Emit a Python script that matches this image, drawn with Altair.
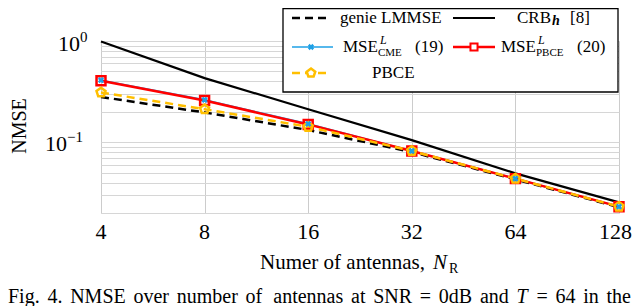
import altair as alt
import pandas as pd

# ---------------- data ----------------
N_R = [4, 8, 16, 32, 64, 128]
genie_lmmse = [0.28, 0.197, 0.132, 0.080, 0.043, 0.0228]
crb_h = [0.99, 0.43, 0.212, 0.105, 0.0493, 0.0255]
mse_cme = [0.41, 0.262, 0.152, 0.082, 0.0437, 0.0231]
mse_pbce = [0.405, 0.258, 0.150, 0.082, 0.0437, 0.0231]
pbce = [0.31, 0.212, 0.142, 0.082, 0.0437, 0.0231]

x_ticks = [4, 8, 16, 32, 64, 128]
y_grid = [0.02, 0.03, 0.04, 0.05, 0.06, 0.07, 0.08, 0.09,
          0.1, 0.2, 0.3, 0.4, 0.5, 0.6, 0.7, 0.8, 0.9, 1.0]

caption_words = ["Fig.", "4.", "NMSE", "over", "number", "of", "antennas", "at",
                 "SNR", "=", "0dB", "and", "T", "=", "64", "in", "the"]

# ---------------- style ----------------
FONT = "Liberation Serif"
BLUE = "#1ea0e6"
RED = "#ff0000"
ORANGE = "#ffbf00"
PENTAGON = "M0,-1L0.951,-0.309L0.588,0.809L-0.588,0.809L-0.951,-0.309Z"

W, H = 518, 172
PAD_L, PAD_T = 93, 33

# Times-like advance widths (em) used to justify the caption line
EM = {"F": .556, "N": .722, "M": .889, "S": .556, "E": .611, "R": .667, "T": .611,
      "a": .444, "b": .5, "d": .5, "e": .444, "g": .5, "h": .5, "i": .278, "m": .778,
      "n": .5, "o": .5, "r": .333, "s": .389, "t": .278, "u": .5, "v": .5,
      ".": .25, "=": .564, "B": .667}


def em_width(word):
    return sum(EM.get(c, .5) for c in word)


def px(page_x):
    return page_x - 8 - PAD_L


def py(page_y):
    return page_y - 8 - PAD_T


xscale = alt.Scale(type="log", base=2, domain=[4, 128], nice=False)
yscale = alt.Scale(type="log", domain=[0.02, 1], nice=False)
xaxis = alt.Axis(values=x_ticks, grid=True, gridColor="#cccccc", gridWidth=1,
                 ticks=False, domain=False, labels=False, title=None)
yaxis = alt.Axis(values=y_grid, grid=True, gridColor="#d6d6d6", gridWidth=1,
                 ticks=False, domain=False, labels=False, title=None)


def series(vals):
    return pd.DataFrame({"N": N_R, "v": vals})


def enc(ch):
    return ch.encode(
        x=alt.X("N:Q", scale=xscale, axis=xaxis),
        y=alt.Y("v:Q", scale=yscale, axis=yaxis),
    )


one = pd.DataFrame({"a": [0]})


def txt(s, x, y, size, align="left", baseline="middle", **kw):
    return alt.Chart(one).mark_text(
        text=s, font=FONT, fontSize=size, align=align, baseline=baseline,
        color="black", **kw
    ).encode(x=alt.value(x), y=alt.value(y))


def rule(x1, x2, y, color, width, dash=None):
    kw = dict(color=color, strokeWidth=width)
    if dash:
        kw["strokeDash"] = dash
    return alt.Chart(one).mark_rule(**kw).encode(
        x=alt.value(x1), x2=alt.value(x2), y=alt.value(y))


def sym(x, y, shape, color, size, filled, width=2.5, angle=0):
    kw = dict(shape=shape, size=size, filled=filled, strokeWidth=width, opacity=1)
    if filled:
        kw["color"] = color
    else:
        kw["stroke"] = color
        kw["fill"] = "white"
    if angle:
        kw["angle"] = angle
    return alt.Chart(one).mark_point(**kw).encode(x=alt.value(x), y=alt.value(y))


layers = []
# lines
layers.append(enc(alt.Chart(series(genie_lmmse)).mark_line(
    color="black", strokeWidth=2.5, strokeDash=[8, 5])))
layers.append(enc(alt.Chart(series(crb_h)).mark_line(color="black", strokeWidth=2.2)))
layers.append(enc(alt.Chart(series(mse_cme)).mark_line(color=BLUE, strokeWidth=1.6)))
layers.append(enc(alt.Chart(series(mse_pbce)).mark_line(color=RED, strokeWidth=2.5)))
layers.append(enc(alt.Chart(series(pbce)).mark_line(
    color=ORANGE, strokeWidth=2.5, strokeDash=[8, 5])))
# markers
layers.append(enc(alt.Chart(series(mse_pbce)).mark_point(
    shape="square", size=80, filled=False, stroke=RED, strokeWidth=2.5, opacity=1)))
layers.append(enc(alt.Chart(series(pbce)).mark_point(
    shape=PENTAGON, size=90, filled=False, stroke=ORANGE, strokeWidth=2.5, opacity=1)))
layers.append(enc(alt.Chart(series(mse_cme)).mark_point(
    shape="cross", size=40, filled=True, color=BLUE, angle=45, opacity=1)))

# x tick labels through the x scale (last one nudged left so it stays on the page)
xl = pd.DataFrame({"N": x_ticks[:-1]})
xl_last = pd.DataFrame({"N": x_ticks[-1:]})
layers.append(alt.Chart(xl).mark_text(font=FONT, fontSize=22, align="center",
                                       baseline="alphabetic", color="black").encode(
    x=alt.X("N:Q", scale=xscale, axis=xaxis), text="N:Q", y=alt.value(py(238.5))))
layers.append(alt.Chart(xl_last).mark_text(font=FONT, fontSize=22, align="right", dx=13,
                                            baseline="alphabetic", color="black").encode(
    x=alt.X("N:Q", scale=xscale, axis=xaxis), text="N:Q", y=alt.value(py(238.5))))

# y tick labels (10^0, 10^-1) placed at data values through the y scale
ylab = pd.DataFrame({"v": [1.0]})
ylab2 = pd.DataFrame({"v": [0.1]})
layers.append(alt.Chart(ylab).mark_text(text="10", font=FONT, fontSize=22, align="right",
                                         baseline="middle", dy=3, color="black").encode(
    x=alt.value(px(80)), y=alt.Y("v:Q", scale=yscale, axis=yaxis)))
layers.append(alt.Chart(ylab).mark_text(text="0", font=FONT, fontSize=15, align="left",
                                         baseline="middle", dy=-4, color="black").encode(
    x=alt.value(px(80)), y=alt.Y("v:Q", scale=yscale, axis=yaxis)))
layers.append(alt.Chart(ylab2).mark_text(text="10", font=FONT, fontSize=22, align="right",
                                          baseline="middle", dy=2, color="black").encode(
    x=alt.value(px(67)), y=alt.Y("v:Q", scale=yscale, axis=yaxis)))
layers.append(alt.Chart(ylab2).mark_text(text="\u22121", font=FONT, fontSize=15, align="left",
                                          baseline="middle", dy=-5, color="black").encode(
    x=alt.value(px(67)), y=alt.Y("v:Q", scale=yscale, axis=yaxis)))

# axis titles
layers.append(txt("NMSE", px(20), py(126), 20, align="center", angle=270))
layers.append(txt("Numer of antennas,", px(260), py(269), 21, baseline="alphabetic"))
layers.append(txt("N", px(433), py(269), 21, baseline="alphabetic", fontStyle="italic"))
layers.append(txt("R", px(449), py(273), 14, baseline="alphabetic"))

# legend box
layers.append(alt.Chart(one).mark_rect(fill="white", stroke="black", strokeWidth=1.3).encode(
    x=alt.value(px(283)), x2=alt.value(px(618)), y=alt.value(py(8.5)), y2=alt.value(py(92))))
r1, r2, r3 = py(18), py(47), py(73)
layers.append(rule(px(292), px(330), r1, "black", 2.5, [8, 5]))
layers.append(txt("genie LMMSE", px(340), r1, 17))
layers.append(rule(px(453), px(495), r1, "black", 2.2))
layers.append(txt("CRB", px(517), r1, 17))
layers.append(txt("h", px(552), r1 + 3, 14, fontStyle="italic", fontWeight="bold"))
layers.append(txt("[8]", px(570), r1, 17))

layers.append(rule(px(292), px(333), r2, BLUE, 1.6))
layers.append(sym(px(311), r2, "cross", BLUE, 40, True, angle=45))
layers.append(txt("MSE", px(343), r2, 17))
layers.append(txt("L", px(380), r2 - 7, 12, fontStyle="italic"))
layers.append(txt("CME", px(378), r2 + 6, 11))
layers.append(txt("(19)", px(415), r2, 17))

layers.append(rule(px(453), px(495), r2, RED, 2.5))
layers.append(sym(px(474), r2, "square", RED, 50, False, width=2))
layers.append(txt("MSE", px(501), r2, 17))
layers.append(txt("L", px(538), r2 - 7, 12, fontStyle="italic"))
layers.append(txt("PBCE", px(536), r2 + 6, 11))
layers.append(txt("(20)", px(577), r2, 17))

layers.append(rule(px(292), px(330), r3, ORANGE, 2.5, [8, 5]))
layers.append(sym(px(311), r3, PENTAGON, ORANGE, 80, False))
layers.append(txt("PBCE", px(372), r3, 17))

# caption, justified across the line
CAP_F = 20
cap_start, cap_end = 8, 631
widths = [em_width(w) * CAP_F for w in caption_words]
gap = (cap_end - cap_start - sum(widths)) / (len(caption_words) - 1)
xpos = cap_start
for w, wd in zip(caption_words, widths):
    kw = {"fontStyle": "italic"} if w == "T" else {}
    layers.append(txt(w, px(xpos), py(303), CAP_F, baseline="alphabetic", **kw))
    xpos += wd + gap

chart = alt.layer(*layers).properties(
    width=W, height=H,
    autosize=alt.AutoSizeParams(type="none"),
    padding={"left": PAD_L, "top": PAD_T, "right": 13, "bottom": 93},
).configure_view(stroke="black", strokeWidth=1.3).configure(background="white")

chart.save("out.html", embed_options={"renderer": "svg", "actions": False})
